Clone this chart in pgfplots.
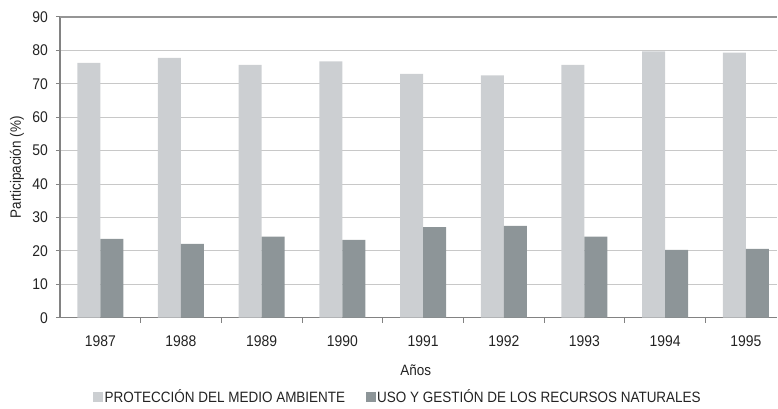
\documentclass[border=0pt]{standalone}
\usepackage{fontspec}
\setmainfont{Liberation Sans}[FakeStretch=0.9]
\usepackage{pgfplots}
\pgfplotsset{compat=1.18}
\definecolor{lightbar}{RGB}{204,207,210}
\definecolor{darkbar}{RGB}{141,149,152}
\definecolor{gridc}{RGB}{200,200,200}
\definecolor{axisc}{RGB}{130,130,130}
\definecolor{textc}{RGB}{35,35,35}
\begin{document}
\begin{tikzpicture}
\fontsize{15bp}{17bp}\selectfont
\begin{axis}[
  scale only axis, width=718bp, height=301bp,
  at={(0,0)}, anchor=south west,
  xmin=-0.5, xmax=8.39, ymin=0, ymax=90,
  axis lines=left,
  axis line style={-, draw=axisc, line width=1.3bp},
  ytick={0,10,...,90},
  xtick={0,...,8},
  xticklabels={1987,1988,1989,1990,1991,1992,1993,1994,1995},
  minor xtick={0.5,1.5,...,7.5},
  tick align=outside,
  major tick length=4bp, minor tick length=5bp,
  major x tick style={draw=none},
  every tick/.style={draw=axisc, line width=1bp},
  ymajorgrids, grid style={draw=gridc, line width=1.1bp},
  /pgf/number format/assume math mode=true,
  tick label style={font=\fontsize{15.5bp}{17bp}\selectfont, text=textc},
  x tick label style={yshift=-9bp},
  y tick label style={xshift=-3bp},
  xlabel={Años}, ylabel={Participación (\%)},
  label style={font=\fontsize{15bp}{17bp}\selectfont, text=textc},
  xlabel style={at={(axis description cs:0.4958,0)}, anchor=north, yshift=-42bp},
  ylabel style={at={(axis description cs:-0.0599,0.5)}, anchor=center},
  ybar, bar width=0.285,
  clip=true,
  legend columns=2,
  legend style={at={(axis description cs:0.4708,-0.2625)}, anchor=center, draw=none, fill=none,
    font=\fontsize{15bp}{17bp}\selectfont, text=textc,
    nodes={inner xsep=1.5bp},
    /tikz/every even column/.append style={column sep=19bp}},
  legend image code/.code={\fill[#1] (0bp,-5bp) rectangle (10bp,5bp);},
]
\addplot[fill=lightbar, draw=none, bar shift=-0.1425] coordinates {
 (0,76.3) (1,77.8) (2,75.7) (3,76.7) (4,73.0) (5,72.5) (6,75.7) (7,79.7) (8,79.3)};
\addlegendentry{PROTECCIÓN DEL MEDIO AMBIENTE}
\addplot[fill=darkbar, draw=none, bar shift=0.1425] coordinates {
 (0,23.6) (1,22.1) (2,24.3) (3,23.3) (4,27.1) (5,27.5) (6,24.3) (7,20.3) (8,20.6)};
\addlegendentry{USO Y GESTIÓN DE LOS RECURSOS NATURALES}
\draw[draw=axisc!85, line width=2bp] (axis cs:-0.5,90) -- (axis cs:8.39,90);
\end{axis}
\useasboundingbox (-60bp,-91bp) rectangle (718bp,318bp);
\end{tikzpicture}
\end{document}
